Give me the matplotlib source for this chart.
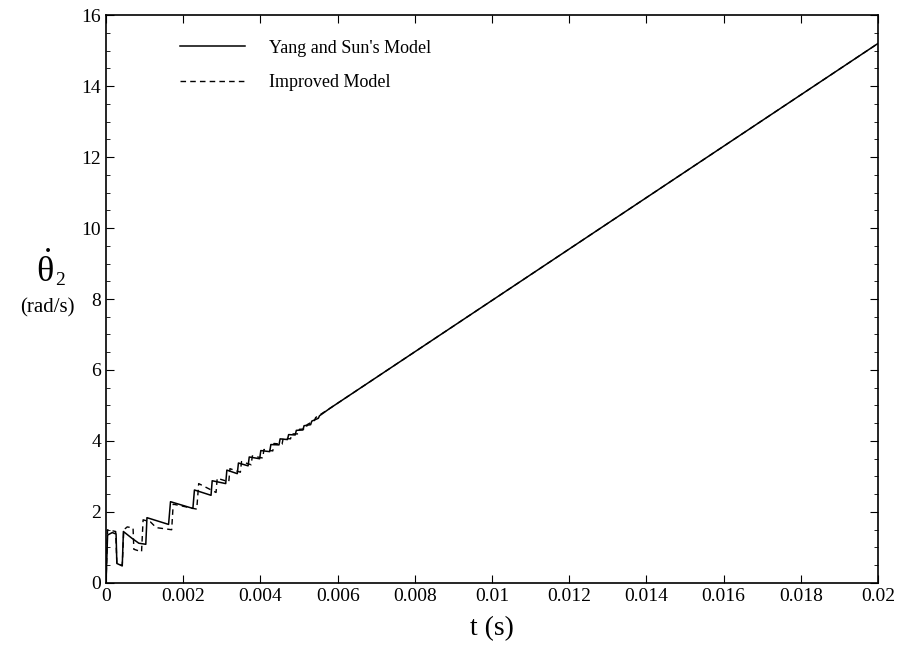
import numpy as np
import matplotlib
matplotlib.use("Agg")
import matplotlib.pyplot as plt
from matplotlib.ticker import MultipleLocator, AutoMinorLocator

plt.rcParams['font.family'] = ['Liberation Serif', 'DejaVu Serif']
plt.rcParams['mathtext.fontset'] = 'custom'
plt.rcParams['mathtext.rm'] = 'Liberation Serif'
plt.rcParams['mathtext.it'] = 'Liberation Serif'

# Yang and Sun's Model (t in ms, theta_dot in rad/s)
t_yang = [0, 0.04, 0.16, 0.26, 0.28, 0.42, 0.45, 0.67, 0.85, 1.03, 1.06, 1.62, 1.67,
          2.25, 2.29, 2.72, 2.75, 3.10, 3.13, 3.40, 3.43, 3.68, 3.71, 3.98, 4.01,
          4.24, 4.27, 4.48, 4.51, 4.70, 4.73, 4.90, 4.93, 5.10, 5.13, 5.30, 5.33,
          5.50, 5.53, 5.80, 20.0]
v_yang = [0, 1.35, 1.42, 1.38, 0.55, 0.48, 1.45, 1.26, 1.12, 1.09, 1.84, 1.65, 2.29,
          2.10, 2.62, 2.47, 2.88, 2.80, 3.18, 3.08, 3.38, 3.30, 3.55, 3.50, 3.73,
          3.70, 3.90, 3.89, 4.06, 4.04, 4.18, 4.17, 4.30, 4.31, 4.43, 4.46, 4.56,
          4.64, 4.71, 4.92, 15.2]

# Improved Model
t_impr = [0, 0.04, 0.25, 0.28, 0.42, 0.46, 0.55, 0.70, 0.72, 0.92, 0.96, 1.15, 1.30,
          1.70, 1.74, 2.35, 2.40, 2.85, 2.88, 3.18, 3.21, 3.48, 3.51, 3.76, 3.79,
          4.06, 4.09, 4.32, 4.35, 4.56, 4.59, 4.78, 4.81, 4.98, 5.01, 5.18, 5.21,
          5.40, 5.43, 5.80, 20.0]
v_impr = [0, 1.50, 1.45, 0.55, 0.50, 1.50, 1.58, 1.55, 0.95, 0.88, 1.78, 1.72, 1.56,
          1.50, 2.22, 2.08, 2.80, 2.55, 2.95, 2.85, 3.22, 3.12, 3.42, 3.33, 3.58,
          3.52, 3.76, 3.72, 3.93, 3.91, 4.08, 4.06, 4.20, 4.20, 4.33, 4.34, 4.46,
          4.58, 4.66, 4.92, 15.2]

x_ticks = [0, 0.002, 0.004, 0.006, 0.008, 0.01, 0.012, 0.014, 0.016, 0.018, 0.02]
x_ticklabels = ['0', '0.002', '0.004', '0.006', '0.008', '0.01', '0.012', '0.014',
                '0.016', '0.018', '0.02']

fig = plt.figure(figsize=(9.04, 6.5), dpi=100)
ax = fig.add_axes([0.1173, 0.1031, 0.854, 0.8738])

ax.plot(np.array(t_yang) / 1000, v_yang, color='black', lw=1.1,
        label="Yang and Sun's Model")
ax.plot(np.array(t_impr) / 1000, v_impr, color='black', lw=1.0,
        linestyle=(0, (4, 3)), label='Improved Model')

ax.set_xlim(0, 0.02)
ax.set_ylim(0, 16)
ax.set_xticks(x_ticks)
ax.set_xticklabels(x_ticklabels)
ax.yaxis.set_major_locator(MultipleLocator(2))
ax.yaxis.set_minor_locator(AutoMinorLocator(4))
ax.tick_params(axis='both', which='both', direction='in', top=True, right=True,
               labelsize=14)
ax.tick_params(which='major', length=6)
ax.tick_params(which='minor', length=3)
for s in ax.spines.values():
    s.set_linewidth(1.2)

ax.set_xlabel('t (s)', fontsize=20, labelpad=8)
# y label: theta-dot with subscript, unit underneath
fig.text(0.040, 0.566, r'$\dot{\theta}$', fontsize=26, ha='left', va='baseline')
fig.text(0.061, 0.562, '2', fontsize=14, ha='left', va='baseline')
fig.text(0.052, 0.520, '(rad/s)', fontsize=15, ha='center', va='baseline')

ax.legend(loc='upper left', bbox_to_anchor=(0.075, 0.985), frameon=False,
          fontsize=13, handlelength=3.6, handletextpad=1.3, labelspacing=0.95)

fig.savefig('out.png', dpi=100)
